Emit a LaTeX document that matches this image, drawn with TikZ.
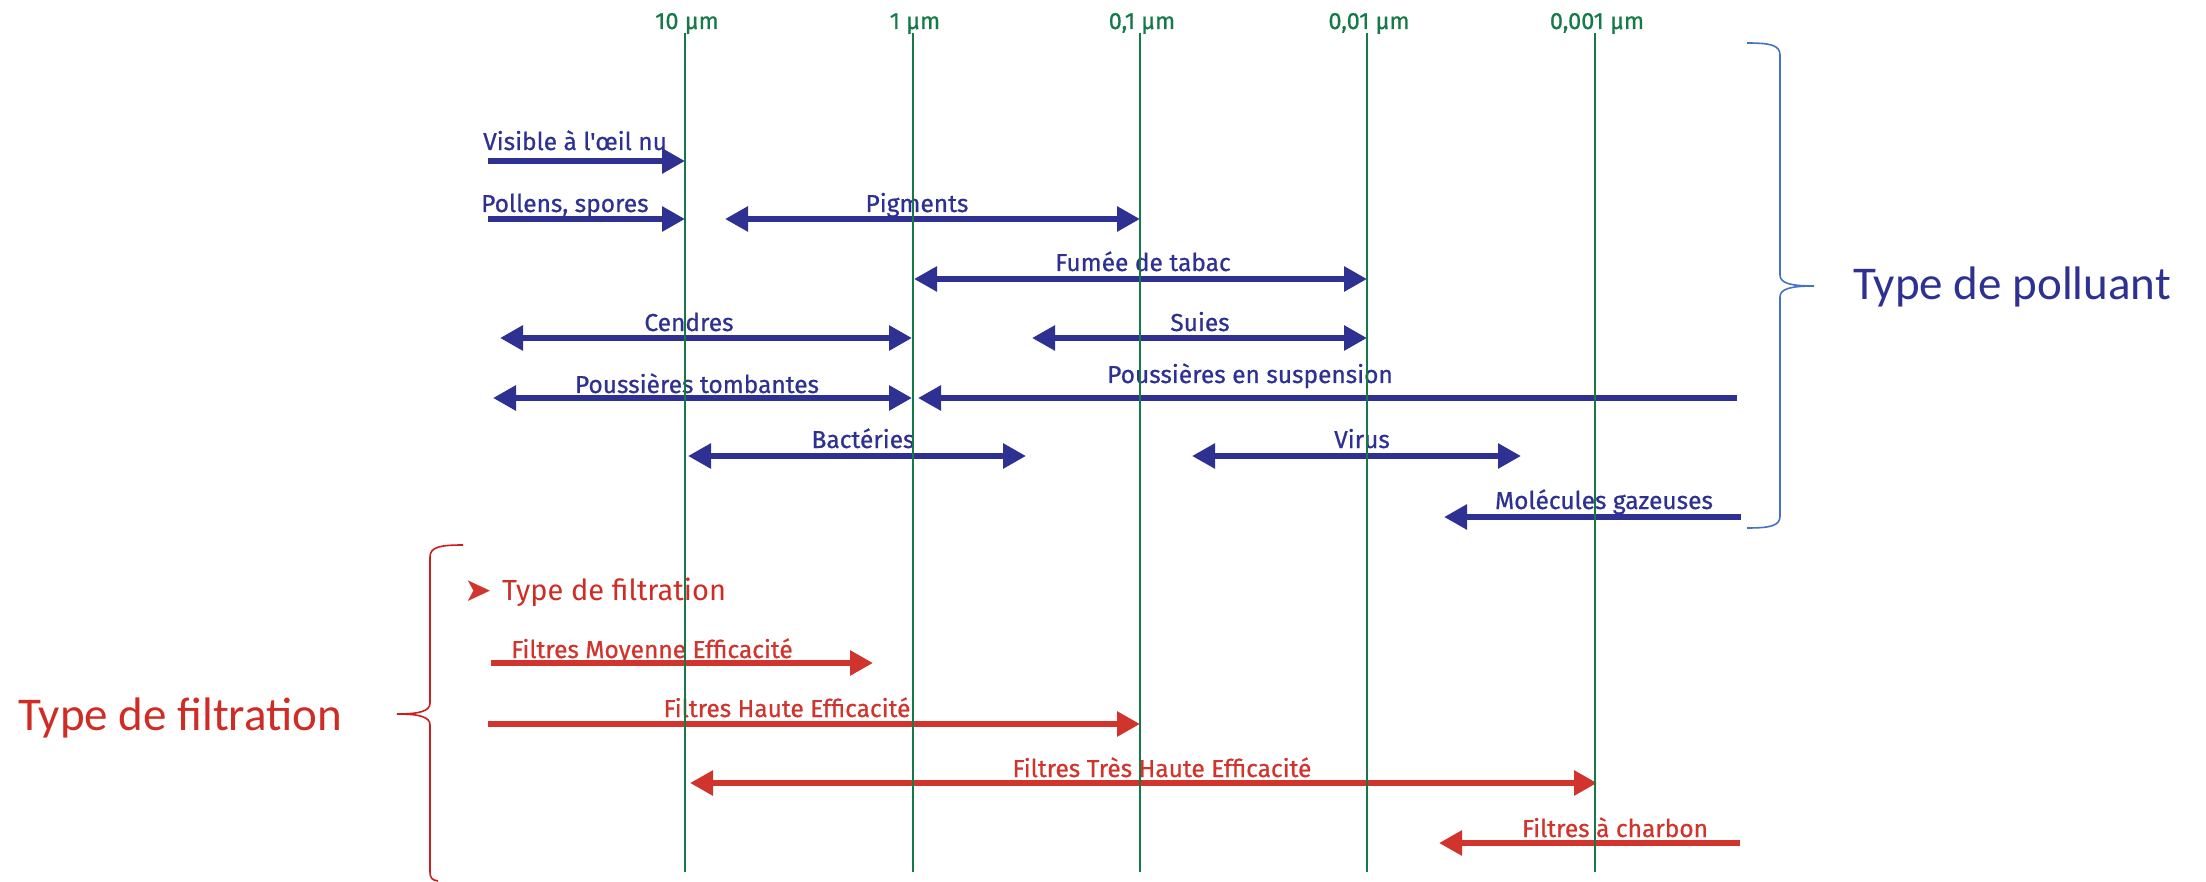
\documentclass[tikz,border=0pt]{standalone}
\usepackage{fontspec}
\setmainfont{Fira Sans}
\newfontfamily\labfont[FakeBold=0.7]{Fira Sans}
\newfontfamily\bigfont{Carlito}
\newfontfamily\symfont{DejaVu Sans}
\usetikzlibrary{arrows.meta}
\definecolor{navy}{RGB}{46,49,146}
\definecolor{gline}{RGB}{22,122,72}
\definecolor{redarr}{RGB}{208,52,44}
\definecolor{redtxt}{RGB}{208,44,38}
\definecolor{braceblue}{RGB}{68,114,196}
\definecolor{bracered}{RGB}{205,30,30}
\tikzset{
  shaft/.style={line width=6.5pt},
  polarrow/.style={shaft, draw=navy},
  filarrow/.style={shaft, draw=redarr},
  headR/.style={-{Triangle[length=23pt,width=24pt]}},
  headL/.style={{Triangle[length=23pt,width=24pt]}-},
  headB/.style={{Triangle[length=23pt,width=24pt]}-{Triangle[length=23pt,width=24pt]}},
  lab/.style={font=\labfont\fontsize{24.5}{28}\selectfont, inner sep=0pt, anchor=base},
  pollab/.style={lab, text=navy},
  fillab/.style={lab, text=redarr},
  scalelab/.style={font=\labfont\fontsize{23.5}{26}\selectfont, inner sep=0pt, anchor=base, text=gline},
  vline/.style={draw=gline, line width=2pt},
  biglab/.style={font=\bigfont\fontsize{47}{54}\selectfont, inner sep=0pt, anchor=base west},
}
\begin{document}
\begin{tikzpicture}[x=1pt,y=-1pt]
\useasboundingbox[fill=white] (0,0) rectangle (2206,882);

% ---------- pollutant arrows ----------
\coordinate (visA) at (488,161);  \coordinate (visB) at (685,161);
\draw[polarrow, headR] (visA) -- (visB);
\node[pollab, anchor=base west] (vis) at (483,150) {Visible à l'œil nu};

\coordinate (polA) at (488,219);  \coordinate (polB) at (685,219);
\draw[polarrow, headR] (polA) -- (polB);
\node[pollab, anchor=base west] (pol) at (481,212) {Pollens, spores};

\coordinate (pigA) at (725,219);  \coordinate (pigB) at (1140,219);
\draw[polarrow, headB] (pigA) -- (pigB);
\node[pollab] (pig) at (917,212) {Pigments};

\coordinate (fumA) at (914,279);  \coordinate (fumB) at (1367,279);
\draw[polarrow, headB] (fumA) -- (fumB);
\node[pollab] (fum) at (1143,271) {Fumée de tabac};

\coordinate (cenA) at (500,338);  \coordinate (cenB) at (912,338);
\draw[polarrow, headB] (cenA) -- (cenB);
\node[pollab] (cen) at (689,331) {Cendres};

\coordinate (suiA) at (1032,338); \coordinate (suiB) at (1367,338);
\draw[polarrow, headB] (suiA) -- (suiB);
\node[pollab] (sui) at (1200,331) {Suies};

\coordinate (ptA) at (493,398);   \coordinate (ptB) at (912,398);
\draw[polarrow, headB] (ptA) -- (ptB);
\node[pollab] (pt) at (697,393) {Poussières tombantes};

\coordinate (psA) at (918,398);   \coordinate (psB) at (1737,398);
\draw[polarrow, headL] (psA) -- (psB);
\node[pollab] (ps) at (1250,383) {Poussières en suspension};

\coordinate (bacA) at (688,456);  \coordinate (bacB) at (1026,456);
\draw[polarrow, headB] (bacA) -- (bacB);
\node[pollab] (bac) at (863,448) {Bactéries};

\coordinate (virA) at (1192,456); \coordinate (virB) at (1521,456);
\draw[polarrow, headB] (virA) -- (virB);
\node[pollab] (vir) at (1362,448) {Virus};

\coordinate (molA) at (1444,517); \coordinate (molB) at (1741,517);
\draw[polarrow, headL] (molA) -- (molB);
\node[pollab] (mol) at (1604,509) {Molécules gazeuses};

% ---------- filtration ----------
\node[inner sep=0pt, anchor=base west, text=redarr, font=\symfont\fontsize{33}{36}\selectfont] (tri) at (464,601) {➤};
\node[lab, anchor=base west, text=redtxt, font=\fontsize{29}{34}\selectfont] (ftitle) at (502,600) {Type de filtration};

\coordinate (moyA) at (491,663);  \coordinate (moyB) at (873,663);
\draw[filarrow, headR] (moyA) -- (moyB);
\node[fillab] (moy) at (652,658) {Filtres Moyenne Efficacité};

\coordinate (hauA) at (488,724);  \coordinate (hauB) at (1140,724);
\draw[filarrow, headR] (hauA) -- (hauB);
\node[fillab] (hau) at (787,717) {Filtres Haute Efficacité};

\coordinate (treA) at (690,783);  \coordinate (treB) at (1597,783);
\draw[filarrow, headB] (treA) -- (treB);
\node[fillab] (tre) at (1162,777) {Filtres Très Haute Efficacité};

\coordinate (chaA) at (1439,843); \coordinate (chaB) at (1740,843);
\draw[filarrow, headL] (chaA) -- (chaB);
\node[fillab] (cha) at (1615,837) {Filtres à charbon};

% ---------- scale lines ----------
\foreach \i/\x/\t in {1/685/{10 µm},2/913/{1 µm},3/1140/{0,1 µm},4/1367/{0,01 µm},5/1595/{0,001 µm}}{
  \coordinate (g\i t) at (\x,33);
  \coordinate (g\i b) at (\x,872);
  \node[scalelab] (s\i) at (\x+2,29) {\t};
  \draw[vline] (g\i t) -- (g\i b);
}

% ---------- braces ----------
\draw[braceblue, line width=1.6pt]
  (1747,43) .. controls (1770,43) and (1780,45) .. (1780,55) -- (1780,275)
  .. controls (1780,283) and (1790,286) .. (1814,286)
  .. controls (1790,286) and (1780,289) .. (1780,297) -- (1780,516)
  .. controls (1780,526) and (1770,528) .. (1747,528);
\node[biglab, text=navy] (tpol) at (1853,300) {Type de polluant};

\draw[bracered, line width=1.6pt]
  (463,545) .. controls (440,545) and (430,547) .. (430,557) -- (430,703)
  .. controls (430,711) and (420,714) .. (397,714)
  .. controls (420,714) and (430,717) .. (430,725) -- (430,872)
  .. controls (430,878) and (432,880) .. (438,881);
\node[biglab, text=redtxt] (tfil) at (18,730) {Type de filtration};
\end{tikzpicture}
\end{document}
